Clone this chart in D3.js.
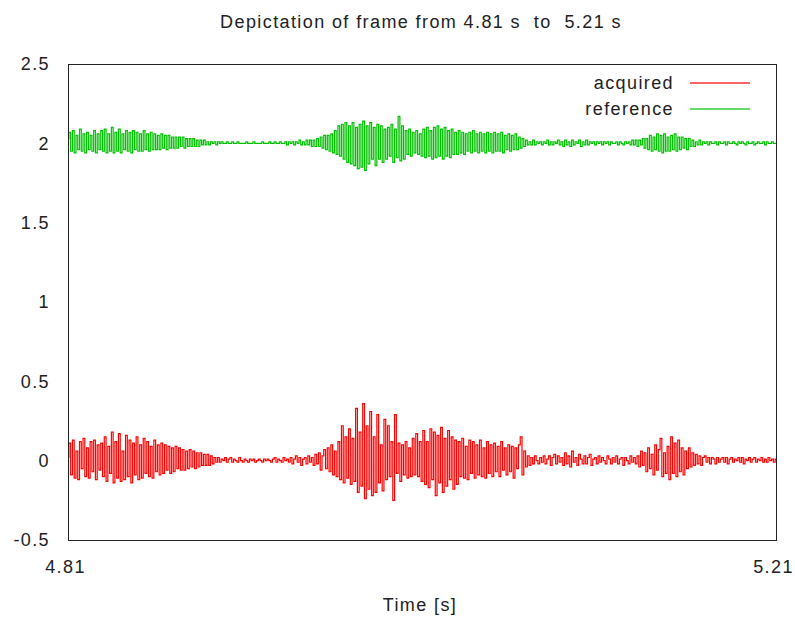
<!DOCTYPE html>
<html>
<head>
<meta charset="utf-8">
<script src="https://cdn.jsdelivr.net/npm/d3@7"></script>
<style>
  html, body { margin: 0; padding: 0; background: #fff; }
  svg { display: block; }
  text { font-family: "Liberation Sans", Arial, sans-serif; font-size: 18px; fill: #222; letter-spacing: 1.4px; }
</style>
</head>
<body>
<svg id="chart" width="795" height="617"></svg>
<script>
// ---- data ----
const titleText = "Depictation of frame from 4.81 s  to  5.21 s";
const xLabel = "Time [s]";
const timeStart = 4.81;
const timeEnd = 5.21;
const xTickValues = [4.81, 5.21];
const xTickLabels = ["4.81", "5.21"];
const yTickValues = [-0.5, 0, 0.5, 1, 1.5, 2, 2.5];
const yTickLabels = ["-0.5", "0", "0.5", "1", "1.5", "2", "2.5"];
const seriesNames = ["acquired", "reference"];
const seriesColors = ["#ff0000", "#00c000"];

// acquired signal, sampled uniformly from 4.81 s to 5.21 s
const acquired = [
  0.02,0.11,-0.09,0.13,-0.11,0.06,-0.12,0.12,-0.05,0.14,-0.1,0.08,-0.11,0.12,-0.07,0.13,-0.12,0.1,-0.06,0.11,
  -0.1,0.15,-0.13,0.09,-0.08,0.18,-0.14,0.12,-0.11,0.17,-0.13,0.06,-0.12,0.16,-0.1,0.13,-0.14,0.11,-0.09,0.15,
  -0.12,0.1,-0.11,0.14,-0.08,0.12,-0.1,0.09,-0.11,0.13,-0.07,0.1,-0.09,0.11,-0.08,0.1,-0.06,0.09,-0.08,0.08,
  -0.07,0.09,-0.05,0.08,-0.06,0.07,-0.06,0.06,-0.05,0.07,-0.04,0.06,-0.05,0.05,-0.04,0.05,-0.03,0.04,-0.03,0.04,
  -0.03,0.03,-0.02,0.02,-0.01,0.02,-0.01,0.01,0,0.02,-0.01,0.01,0.02,-0.01,0.01,0,-0.01,0.02,0,-0.01,
  0.01,0,-0.01,0.01,0,0.01,-0.01,0,0.01,0,-0.01,0.01,0,0.01,0,-0.01,0.01,0.02,-0.01,0.01,
  0,-0.01,0.02,0,0.01,-0.01,0.02,-0.02,0.01,0.03,-0.01,0.02,-0.03,0.01,0.02,-0.02,0.03,-0.01,0.02,-0.03,
  0.04,-0.02,0.05,-0.06,0.03,0.07,-0.05,0.08,-0.07,0.1,-0.09,0.06,-0.1,0.12,-0.12,0.22,-0.14,0.15,-0.11,0.2,
  -0.15,0.14,-0.13,0.33,-0.2,0.18,-0.16,0.36,-0.24,0.22,-0.18,0.31,-0.22,0.15,-0.2,0.29,-0.14,0.1,-0.19,0.26,
  -0.12,0.22,-0.1,0.12,-0.25,0.29,-0.08,0.11,-0.13,0.1,-0.09,0.12,-0.11,0.08,-0.1,0.14,-0.09,0.17,-0.1,0.12,
  -0.13,0.19,-0.15,0.12,-0.17,0.2,-0.12,0.18,-0.22,0.16,-0.14,0.21,-0.2,0.14,-0.16,0.19,-0.12,0.15,-0.18,0.13,
  -0.15,0.12,-0.1,0.14,-0.11,0.09,-0.12,0.13,-0.08,0.12,-0.11,0.1,-0.09,0.13,-0.1,0.08,-0.11,0.12,-0.08,0.1,
  -0.1,0.11,-0.07,0.09,-0.1,0.12,-0.06,0.08,-0.09,0.1,-0.07,0.09,-0.11,0.08,-0.05,0.1,0.15,-0.09,0.06,-0.04,
  0.03,-0.03,0.02,-0.02,0.03,0,-0.02,0.02,-0.01,0.03,-0.02,0.01,0.03,-0.03,0.02,0.04,-0.02,0.03,-0.01,0.02,
  -0.03,0.05,-0.02,0.03,-0.04,0.06,-0.01,0.02,-0.03,0.04,0.01,-0.02,0.03,-0.02,0.02,0.04,-0.03,0.01,0.02,-0.02,
  0.03,-0.01,0.02,0,-0.02,0.03,0.01,-0.02,0.02,-0.01,0.03,-0.02,0.01,0.02,-0.03,0.02,0,-0.02,0.03,-0.01,
  0.02,-0.02,0.03,-0.04,0.06,-0.03,0.05,-0.07,0.08,-0.05,0.04,-0.09,0.1,-0.06,0.07,0.14,-0.1,0.05,-0.08,0.09,
  -0.12,0.15,-0.08,0.11,-0.1,0.13,-0.07,0.08,-0.09,0.06,-0.05,0.08,-0.04,0.05,-0.03,0.04,-0.02,0.03,-0.03,0.02,
  0.03,-0.01,0.02,-0.02,0.02,0.01,-0.02,0.02,-0.01,0.01,0.02,-0.01,0.02,-0.02,0.01,0.02,-0.01,0.01,0,0.02,
  -0.01,0.02,-0.02,0.01,0,0.02,-0.01,0.01,0.02,-0.01,0.01,0,0.02,-0.01,0.01,-0.01,0.02,0,0.01,-0.01,0.01
];

// reference signal (plotted around 2), sampled uniformly from 4.81 s to 5.21 s
const reference = [
  2.03,2.07,1.95,2.08,1.94,2.05,1.96,2.09,1.95,2.06,1.94,2.07,1.96,2.05,1.95,2.08,1.94,2.06,1.96,2.08,
  1.95,2.09,1.94,2.06,1.95,2.1,1.94,2.07,1.95,2.09,1.94,2.06,1.96,2.08,1.95,2.07,1.94,2.08,1.96,2.07,
  1.95,2.06,1.95,2.08,1.96,2.06,1.95,2.07,1.96,2.06,1.96,2.05,1.96,2.06,1.97,2.05,1.96,2.05,1.97,2.04,
  1.97,2.04,1.97,2.04,1.98,2.04,1.97,2.03,1.98,2.03,1.98,2.03,1.98,2.02,1.98,2.02,1.99,2.02,1.99,2.01,
  1.99,2.01,2,2.01,1.99,2.01,2,2.01,2,2,2.01,2,2,2.01,2,2,2.01,2,2,2,
  2,2.01,2,2,2,2.01,2,2,2,2,2.01,2,2,2,2.01,2,2,2.01,2,2,
  2.01,2,2,2.01,1.99,2.01,2,2.01,1.99,2.01,2,2.02,1.99,2.01,1.99,2.02,1.99,2.02,1.98,2.02,
  1.98,2.03,1.98,2.04,1.97,2.05,1.96,2.05,1.95,2.06,1.94,2.08,1.93,2.11,1.92,2.12,1.9,2.13,1.88,2.11,
  1.87,2.13,1.86,2.1,1.84,2.12,1.85,2.14,1.83,2.11,1.87,2.13,1.9,2.1,1.86,2.12,1.9,2.11,1.88,2.09,
  1.9,2.1,1.92,2.12,1.88,2.09,1.91,2.17,1.89,2.11,1.9,2.08,1.93,2.09,1.92,2.07,1.94,2.08,1.93,2.06,
  1.92,2.09,1.91,2.1,1.92,2.08,1.9,2.1,1.91,2.11,1.92,2.09,1.9,2.1,1.92,2.08,1.91,2.09,1.93,2.07,
  1.93,2.08,1.94,2.07,1.93,2.06,1.95,2.07,1.94,2.08,1.95,2.06,1.94,2.07,1.95,2.06,1.94,2.07,1.95,2.06,
  1.94,2.07,1.95,2.06,1.95,2.07,1.94,2.05,1.96,2.06,1.95,2.05,1.96,2.06,1.96,2.04,1.97,2.03,1.98,2.02,
  1.99,2.01,1.99,2.02,1.99,2.01,2,2.01,1.99,2.01,2,2.02,1.99,2.01,1.99,2.01,2,2.02,1.99,2.01,
  1.98,2.02,1.99,2.01,1.98,2.02,1.99,2.01,2,2.02,1.98,2.01,1.99,2.02,1.99,2.01,2,2.01,1.99,2.01,
  2,2.01,1.99,2.01,2,2.01,1.99,2.01,2,2,2.01,1.99,2.01,2,1.99,2.01,2,2.01,1.99,2.02,
  1.99,2.02,1.98,2.02,1.99,2.03,1.97,2.03,1.96,2.05,1.95,2.04,1.96,2.06,1.95,2.05,1.94,2.06,1.95,2.04,
  1.95,2.05,1.96,2.06,1.95,2.04,1.96,2.04,1.97,2.03,1.96,2.03,1.98,2.02,1.98,2.01,1.99,2.02,1.99,2.01,
  2,2.01,1.99,2.01,2,2,2.01,1.99,2.01,2,2,2.01,1.99,2.01,2,2,2.01,2,1.99,2.01,
  2,2.01,2,1.99,2.01,2,2,2.01,1.99,2,2.01,2,2,2.01,1.99,2.01,2,2,2.01,2,2
];

// ---- drawing ----
const plot = { left: 68, right: 776, top: 64, bottom: 540 };

const svg = d3.select("#chart");

const x = d3.scaleLinear().domain([timeStart, timeEnd]).range([plot.left, plot.right]);
const y = d3.scaleLinear().domain([-0.5, 2.5]).range([plot.bottom, plot.top]);

// title
svg.append("text")
  .attr("x", 421).attr("y", 28)
  .attr("text-anchor", "middle")
  .attr("xml:space", "preserve")
  .style("white-space", "pre")
  .text(titleText);

// axes (labels only, no tick marks)
const yAxis = d3.axisLeft(y).tickValues(yTickValues)
  .tickFormat((d, i) => yTickLabels[i]).tickSize(0).tickPadding(18);
const gy = svg.append("g").attr("transform", `translate(${plot.left},0)`).call(yAxis);
gy.select(".domain").remove();
gy.attr("font-family", null).attr("font-size", null);
gy.selectAll("text").attr("fill", null);

const xAxis = d3.axisBottom(x).tickValues(xTickValues)
  .tickFormat((d, i) => xTickLabels[i]).tickSize(0).tickPadding(20);
const gx = svg.append("g").attr("transform", `translate(-3,${plot.bottom})`).call(xAxis);
gx.select(".domain").remove();
gx.attr("font-family", null).attr("font-size", null);
gx.selectAll("text").attr("fill", null);

// x label
svg.append("text")
  .attr("x", 420).attr("y", 611)
  .attr("text-anchor", "middle")
  .text(xLabel);

// series
const line = d3.line()
  .x((d, i, arr) => x(timeStart + (timeEnd - timeStart) * i / (arr.length - 1)))
  .y(d => y(d))
  .curve(d3.curveStep);

const plotG = svg.append("g");
[acquired, reference].forEach((series, k) => {
  plotG.append("path").datum(series)
    .attr("fill", "none")
    .attr("stroke", seriesColors[k])
    .attr("stroke-width", 1.2)
    .attr("d", line);
});

// frame
svg.append("rect")
  .attr("x", plot.left + 0.5).attr("y", plot.top + 0.5)
  .attr("width", plot.right - plot.left).attr("height", plot.bottom - plot.top)
  .attr("fill", "none").attr("stroke", "#222").attr("stroke-width", 1);

// legend
const legend = svg.append("g");
seriesNames.forEach((name, i) => {
  const ly = 83 + i * 26;
  legend.append("text")
    .attr("x", 674).attr("y", ly).attr("dy", "0.35em")
    .attr("text-anchor", "end")
    .text(name);
  legend.append("line")
    .attr("x1", 690).attr("x2", 750).attr("y1", ly).attr("y2", ly)
    .style("stroke", seriesColors[i]).style("stroke-width", "1.5px")
    .style("stroke-opacity", 0.8);
});
</script>
</body>
</html>
